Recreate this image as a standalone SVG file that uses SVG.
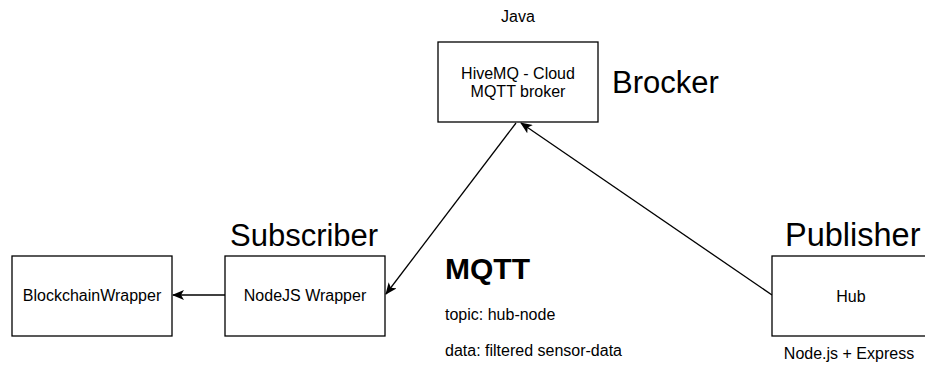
<svg xmlns="http://www.w3.org/2000/svg" width="925" height="368" viewBox="0 0 925 368">
<style>
.box{fill:#fff;stroke:#000;stroke-width:1.3}
.t{font-family:"Liberation Sans",Arial,Helvetica,sans-serif;font-size:16px;fill:#000}
.c{text-anchor:middle}
.big{font-family:"Liberation Sans",Arial,Helvetica,sans-serif;font-size:31px;fill:#000}
.bold{font-family:"Liberation Sans",Arial,Helvetica,sans-serif;font-size:30px;font-weight:bold;fill:#000}
.edge{fill:none;stroke:#000;stroke-width:1.3}
</style>
<defs>
<marker id="arr" viewBox="0 0 12 10" refX="11" refY="5" markerWidth="12" markerHeight="10" markerUnits="userSpaceOnUse" orient="auto">
<path d="M0,0 L12,5 L0,10 L3,5 Z" fill="#000"/>
</marker>
</defs>
<rect width="925" height="368" fill="#fff"/>
<g id="connectors">
<line class="edge" x1="516" y1="123" x2="386" y2="294" marker-end="url(#arr)"/>
<line class="edge" x1="772" y1="295" x2="521" y2="123" marker-end="url(#arr)"/>
<line class="edge" x1="225" y1="295" x2="173" y2="295" marker-end="url(#arr)"/>
</g>
<g id="broker">
<rect class="box" x="438" y="42" width="160" height="80"/>
<text class="t c" x="518" y="79">HiveMQ - Cloud</text>
<text class="t c" x="518" y="97">MQTT broker</text>
</g>
<g id="java-label"><text class="t c" x="518" y="22">Java</text></g>
<g id="brocker-label"><text class="big" x="612" y="93">Brocker</text></g>
<g id="blockchain">
<rect class="box" x="12" y="256" width="160" height="80"/>
<text class="t c" x="92" y="301">BlockchainWrapper</text>
</g>
<g id="subscriber">
<rect class="box" x="225" y="256" width="160" height="80"/>
<text class="t c" x="305" y="301">NodeJS Wrapper</text>
</g>
<g id="subscriber-label"><text class="big" x="230" y="246">Subscriber</text></g>
<g id="hub">
<rect class="box" x="772" y="256" width="160" height="80"/>
<text class="t c" x="851" y="302">Hub</text>
</g>
<g id="publisher-label"><text class="big" x="785" y="246" style="font-size:32.5px">Publisher</text></g>
<g id="hub-tech"><text class="t c" x="849" y="359">Node.js + Express</text></g>
<g id="mqtt-info">
<text class="bold" x="445" y="279">MQTT</text>
<text class="t" x="445" y="320">topic: hub-node</text>
<text class="t" x="445" y="356">data: filtered sensor-data</text>
</g>
</svg>
